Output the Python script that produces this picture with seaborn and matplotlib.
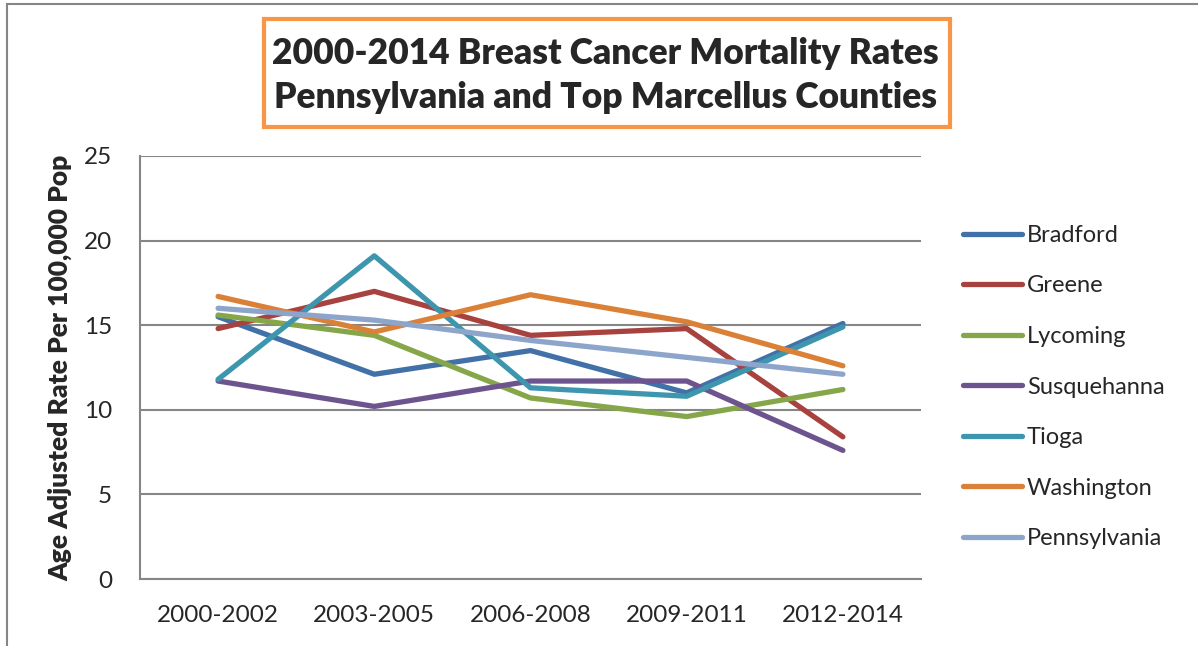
import pandas as pd
import matplotlib
matplotlib.use('Agg')
import matplotlib.pyplot as plt
import matplotlib.patches as patches
import seaborn as sns

# data
periods = ['2000-2002', '2003-2005', '2006-2008', '2009-2011', '2012-2014']
bradford = [15.5, 12.1, 13.5, 11.0, 15.1]
greene = [14.8, 17.0, 14.4, 14.8, 8.4]
lycoming = [15.6, 14.4, 10.7, 9.6, 11.2]
susquehanna = [11.7, 10.2, 11.7, 11.7, 7.6]
tioga = [11.8, 19.1, 11.3, 10.8, 14.9]
washington = [16.7, 14.6, 16.8, 15.2, 12.6]
pennsylvania = [16.0, 15.3, 14.1, 13.1, 12.1]

series = {
    'Bradford': bradford,
    'Greene': greene,
    'Lycoming': lycoming,
    'Susquehanna': susquehanna,
    'Tioga': tioga,
    'Washington': washington,
    'Pennsylvania': pennsylvania,
}
colors = {
    'Bradford': '#4171A7',
    'Greene': '#A8423F',
    'Lycoming': '#86A749',
    'Susquehanna': '#6E548E',
    'Tioga': '#3D96AE',
    'Washington': '#DA8137',
    'Pennsylvania': '#8EA5CB',
}

rows = []
for name, vals in series.items():
    for p, v in zip(periods, vals):
        rows.append({'Period': p, 'Rate': v, 'County': name})
df = pd.DataFrame(rows)

sns.set_style('white')
plt.rcParams['font.family'] = ['Lato', 'DejaVu Sans']

W, H = 1198, 646
fig = plt.figure(figsize=(W / 100, H / 100), dpi=100)
ax = fig.add_axes([140 / W, 1 - 579 / H, 781 / W, 423 / H])

sns.lineplot(data=df, x='Period', y='Rate', hue='County', palette=colors,
             hue_order=list(series.keys()), sort=False, linewidth=3.8,
             ax=ax, legend=True)

ax.set_xlim(-0.5, 4.5)
ax.set_ylim(0, 25)
ax.set_yticks([0, 5, 10, 15, 20, 25])
ax.yaxis.grid(True, color='#868686', linewidth=1.5)
ax.set_axisbelow(True)
for s in ['top', 'right']:
    ax.spines[s].set_visible(False)
for s in ['left', 'bottom']:
    ax.spines[s].set_color('#868686')
    ax.spines[s].set_linewidth(1.5)
ax.tick_params(axis='y', length=0, pad=20, labelsize=17.5)
ax.tick_params(axis='x', length=0, pad=19, labelsize=17.5)
ax.set_xlabel('')
ax.set_ylabel('Age Adjusted Rate Per 100,000 Pop', fontsize=19, fontweight='heavy')
ax.yaxis.set_label_coords(-0.086, 0.5)

sns.move_legend(ax, 'center left', bbox_to_anchor=(963 / W, 1 - 387 / H),
                bbox_transform=fig.transFigure, frameon=False, title=None,
                fontsize=17, handlelength=2.5, handletextpad=0.2,
                labelspacing=1.25, borderpad=0, borderaxespad=0)
for ln in ax.get_legend().get_lines():
    ln.set_linewidth(3.8)

# title in orange box
fig.patches.append(patches.Rectangle((264 / W, 1 - 127 / H), 686 / W, 108 / H,
                                     transform=fig.transFigure, fill=False,
                                     edgecolor='#F79646', linewidth=3))
fig.text(605 / W, 1 - 53 / H, '2000-2014 Breast Cancer Mortality Rates',
         ha='center', va='center', fontsize=25.5, fontweight='heavy')
fig.text(605 / W, 1 - 97 / H, 'Pennsylvania and Top Marcellus Counties',
         ha='center', va='center', fontsize=25.5, fontweight='heavy')

# outer chart border
fig.patches.append(patches.Rectangle((7 / W, -0.1), 1.2, 1 - 4 / H + 0.1,
                                     transform=fig.transFigure, fill=False,
                                     edgecolor='#868686', linewidth=1.5))

plt.savefig('out.png', dpi=100)
